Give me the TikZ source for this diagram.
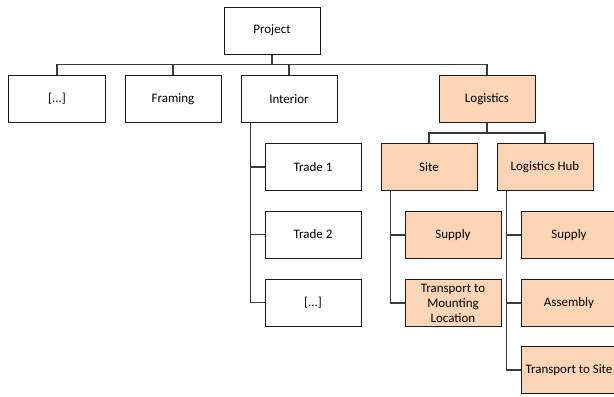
\documentclass[tikz,border=0pt]{standalone}
\usepackage{fontspec}
\setmainfont{Carlito}
\definecolor{peach}{HTML}{FBD5B5}
\definecolor{conn}{HTML}{3A3A3A}
\tikzset{
  box/.style={draw=black!90, line width=1bp, minimum width=96bp, minimum height=47bp,
    inner sep=1bp, align=center, font=\fontsize{13}{15}\selectfont},
  lbox/.style={box, fill=peach},
  wbox/.style={box, fill=white},
  link/.style={draw=conn, line width=1.2bp}
}
\begin{document}
\begin{tikzpicture}[x=1bp,y=-1bp]
\useasboundingbox (0,0) rectangle (614,396);
\clip (0,0) rectangle (614,396);
\fill[white] (0,0) rectangle (614,396);
% nodes
\node[wbox] (proj) at (272,30.5) {Project};
\node[wbox] (c1) at (57,99) {[...]};
\node[wbox] (c2) at (173,99) {Framing};
\node[wbox] (c3) at (289,99) {Interior};
\node[lbox] (c4) at (487,99) {Logistics};
\node[wbox] (t1) at (313,167) {Trade 1};
\node[wbox] (t2) at (313,234.5) {Trade 2};
\node[wbox] (t3) at (313,302.5) {[...]};
\node[lbox] (site) at (429,167) {Site};
\node[lbox] (hub) at (545,167) {Logistics Hub};
\node[lbox] (s1) at (453,235) {Supply};
\node[lbox] (s2) at (453,303) {Transport to\\Mounting\\Location};
\node[lbox] (h1) at (569,235) {Supply};
\node[lbox] (h2) at (569,303) {Assembly};
\node[lbox] (h3) at (569,370) {Transport to Site};
% connectors level 1
\draw[link] (proj.south) -- ++(0,10) coordinate (bus);
\draw[link] (c1.north) |- (bus) -| (c4.north);
\draw[link] (c2.north) -- (c2.north |- bus);
\draw[link] (c3.north) -- (c3.north |- bus);
% logistics
\draw[link] (c4.south) -- ++(0,10) coordinate (lbus);
\draw[link] (site.north) |- (lbus) -| (hub.north);
% interior
\coordinate (ib) at ([xshift=10bp]c3.south west);
\draw[link] (ib) |- (t3.west);
\draw[link] (ib |- t1.west) -- (t1.west);
\draw[link] (ib |- t2.west) -- (t2.west);
% site
\coordinate (sb) at ([xshift=10bp]site.south west);
\draw[link] (sb) |- (s2.west);
\draw[link] (sb |- s1.west) -- (s1.west);
% hub
\coordinate (hb) at ([xshift=10bp]hub.south west);
\draw[link] (hb) |- (h3.west);
\draw[link] (hb |- h1.west) -- (h1.west);
\draw[link] (hb |- h2.west) -- (h2.west);
\end{tikzpicture}
\end{document}
